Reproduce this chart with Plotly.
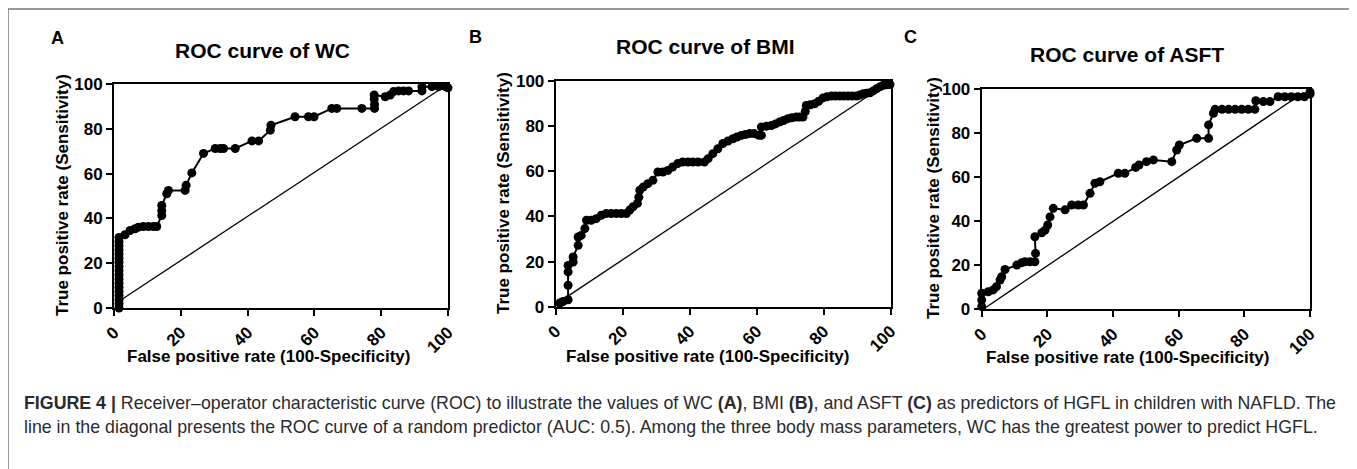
import plotly.graph_objects as go

W, H = 1357, 469
OFF = 8  # the page body margin of the browser

# ---------------- data ----------------
wc_fpr = [1.5, 1.5, 1.5, 1.5, 1.5, 1.5, 1.5, 1.5, 1.5, 1.5, 1.5, 1.5, 1.5, 1.5, 1.5, 1.5, 1.5, 1.5,
          3.3, 4.8, 6.3, 7.3, 8.8, 10.3, 11.8, 12.8, 14.3, 14.3, 14.3, 15.8, 16.3, 21.3, 21.6, 23.3,
          26.8, 30.3, 31.8, 32.8, 36.3, 41.3, 43.3, 46.8, 47.0, 54.2, 58.2, 59.9, 65.2, 66.7, 74.2,
          78.0, 78.0, 77.9, 77.9, 81.2, 82.7, 83.7, 85.2, 86.7, 88.2, 92.2, 92.2, 95.2, 97.2, 99.2, 100.0]
wc_tpr = [0.0, 1.9, 3.7, 5.6, 7.4, 9.3, 11.1, 13.0, 14.8, 16.7, 18.5, 20.4, 22.2, 24.1, 25.9, 27.8, 29.6, 31.5,
          32.7, 34.6, 35.4, 36.1, 36.4, 36.4, 36.4, 36.4, 41.3, 43.5, 45.8, 51.0, 52.5, 52.5, 54.8, 60.3,
          69.0, 71.2, 71.2, 71.2, 71.2, 74.6, 74.6, 79.4, 81.6, 85.4, 85.4, 85.4, 89.1, 89.1, 89.1,
          89.1, 90.9, 93.3, 95.1, 94.3, 95.1, 96.6, 96.9, 96.9, 96.9, 96.9, 98.8, 98.8, 98.8, 98.8, 98.3]

bmi_fpr = [1.2, 2.2, 3.7, 3.7, 3.7, 3.7, 5.2, 5.2, 6.7, 6.7, 7.6, 8.7, 9.2, 10.6, 12.1, 13.6, 15.1,
           16.6, 18.1, 19.6, 21.1, 22.1, 23.1, 24.4, 24.8, 25.1, 26.1, 27.5, 29.0, 30.5, 32.0, 33.5,
           34.9, 36.4, 37.9, 39.5, 40.9, 42.5, 44.4, 45.5, 46.9, 48.4, 49.9, 51.4, 52.9, 54.1, 55.4,
           56.6, 57.9, 59.2, 60.5, 61.4, 61.4, 62.9, 64.4, 65.6, 66.8, 68.0, 69.3, 70.5, 71.8, 72.8,
           73.8, 74.5, 74.8, 76.0, 77.3, 78.5, 79.8, 81.0, 82.3, 83.5, 84.8, 86.0, 87.3, 88.5, 89.8,
           90.8, 91.8, 92.8, 93.8, 94.8, 95.8, 96.8, 97.8, 98.8, 99.8]
bmi_tpr = [1.6, 2.3, 3.1, 9.5, 15.4, 18.3, 19.8, 22.0, 27.2, 30.9, 31.6, 34.6, 38.3, 38.3, 39.0, 40.5, 41.3,
           41.3, 41.3, 41.3, 41.3, 42.8, 44.3, 45.8, 48.5, 51.6, 53.0, 54.5, 56.0, 59.7, 59.7, 60.4,
           61.9, 63.4, 64.1, 64.1, 64.1, 64.1, 64.1, 65.6, 67.8, 70.0, 72.3, 73.4, 74.4, 75.2, 75.9,
           76.3, 76.7, 76.7, 76.0, 75.9, 79.6, 80.0, 80.3, 81.0, 81.8, 82.5, 83.3, 83.7, 84.0, 84.0,
           84.0, 86.5, 89.2, 89.5, 89.9, 91.0, 92.5, 93.0, 93.3, 93.3, 93.3, 93.3, 93.3, 93.3, 93.3,
           93.8, 94.4, 94.6, 94.8, 95.6, 96.6, 97.4, 98.1, 98.3, 98.4]

asft_fpr = [0.0, 0.0, 0.0, 2.0, 3.5, 4.5, 5.6, 6.1, 7.1, 10.7, 12.2, 13.2, 14.7, 16.2, 16.4, 16.2, 18.3,
            19.3, 20.1, 20.8, 21.8, 25.4, 27.4, 29.4, 31.0, 33.0, 34.5, 36.0, 41.6, 43.6, 46.9, 47.9,
            50.2, 52.3, 57.9, 59.4, 60.2, 65.5, 69.1, 69.1, 70.6, 71.1, 73.2, 75.2, 77.2, 79.2, 81.2,
            83.2, 83.5, 85.8, 87.8, 90.3, 92.3, 94.3, 96.3, 98.3, 100.0, 100.0]
asft_tpr = [1.2, 4.2, 7.3, 8.0, 8.8, 10.3, 13.3, 14.8, 18.1, 20.1, 21.2, 21.6, 21.6, 21.6, 25.4, 33.0, 34.8,
            36.0, 38.3, 42.0, 45.9, 45.2, 47.4, 47.4, 47.4, 52.7, 57.3, 58.0, 61.8, 61.8, 64.5, 65.6,
            67.1, 67.9, 67.1, 72.4, 74.7, 77.7, 77.7, 83.8, 89.1, 90.9, 90.9, 90.9, 90.9, 90.9, 90.9,
            90.9, 94.8, 94.4, 94.4, 96.6, 96.6, 96.6, 96.6, 96.6, 97.8, 98.8]

# reference (random predictor) diagonals
diag_wc_x, diag_wc_y = [1.5, 98.0], [3.0, 98.0]
diag_bmi_x, diag_bmi_y = [4.0, 98.0], [5.0, 98.0]
diag_asft_x, diag_asft_y = [0.8, 98.0], [0.4, 98.5]

panel_letters = ["A", "B", "C"]
panel_titles = ["ROC curve of WC", "ROC curve of BMI", "ROC curve of ASFT"]
x_title = "False positive rate (100-Specificity)"
y_title = "True positive rate (Sensitivity)"
tick_vals = [0, 20, 40, 60, 80, 100]
tick_text = ["0", "20", "40", "60", "80", "100"]
caption_line1 = ("<b>FIGURE 4 |</b> Receiver–operator characteristic curve (ROC) to illustrate the values of "
                 "WC <b>(A)</b>, BMI <b>(B)</b>, and ASFT <b>(C)</b> as predictors of HGFL in children with NAFLD. The")
caption_line2 = ("line in the diagonal presents the ROC curve of a random predictor (AUC: 0.5). Among the three "
                 "body mass parameters, WC has the greatest power to predict HGFL.")

# ---------------- layout helpers ----------------
def px(x):
    return (x - OFF) / W


def py(y):
    return 1 - (y - OFF) / H


FONT = "Liberation Sans, Arial, Helvetica, sans-serif"

# plot-area pixel boxes on the page (left, right, top, bottom)
boxes = [(114, 448, 84, 308), (555.7, 890.7, 81, 306.7), (981.7, 1310, 89.3, 309.3)]

fig = go.Figure()

series = [(wc_fpr, wc_tpr, diag_wc_x, diag_wc_y),
          (bmi_fpr, bmi_tpr, diag_bmi_x, diag_bmi_y),
          (asft_fpr, asft_tpr, diag_asft_x, diag_asft_y)]

for i, (fx, ty, dx, dy) in enumerate(series):
    suffix = "" if i == 0 else str(i + 1)
    fig.add_trace(go.Scatter(x=dx, y=dy, mode="lines", line=dict(color="black", width=1.3),
                             xaxis="x" + suffix, yaxis="y" + suffix, showlegend=False, hoverinfo="skip"))
    fig.add_trace(go.Scatter(x=fx, y=ty, mode="lines+markers",
                             line=dict(color="black", width=2),
                             marker=dict(color="black", size=9, symbol="circle"),
                             cliponaxis=False,
                             xaxis="x" + suffix, yaxis="y" + suffix, showlegend=False))

layout = dict(width=W, height=H, margin=dict(l=0, r=0, t=0, b=0, autoexpand=False),
              paper_bgcolor="white", plot_bgcolor="white", showlegend=False)

tickfont = dict(family=FONT, size=17, color="black", weight="bold")
for i, (l, r, t, b) in enumerate(boxes):
    suffix = "" if i == 0 else str(i + 1)
    layout["xaxis" + suffix] = dict(domain=[px(l), px(r)], range=[0, 100], anchor="y" + suffix,
                                    showline=True, linecolor="black", linewidth=2, mirror=True,
                                    ticks="outside", ticklen=6, tickwidth=2, tickcolor="black",
                                    tickvals=tick_vals, ticktext=tick_text, tickangle=-45,
                                    tickfont=tickfont, showgrid=False, zeroline=False, fixedrange=True,
                                    automargin=False)
    layout["yaxis" + suffix] = dict(domain=[py(b), py(t)], range=[0, 100], anchor="x" + suffix,
                                    showline=True, linecolor="black", linewidth=2, mirror=True,
                                    ticks="outside", ticklen=6, tickwidth=2, tickcolor="black",
                                    tickvals=tick_vals, ticktext=tick_text,
                                    tickfont=tickfont, showgrid=False, zeroline=False, fixedrange=True,
                                    automargin=False)

fig.update_layout(**layout)

letter_pos = [(57, 38), (475, 37), (910, 37)]
title_pos = [(262, 50), (705, 47), (1127, 55)]
ytitle_pos = [(63, 195), (503, 193), (933, 198)]
xtitle_pos = [(268, 356), (707, 356), (1127, 357)]


def note(x, y, text, size, **kw):
    d = dict(x=px(x), y=py(y), xref="paper", yref="paper", text=text, showarrow=False,
             xanchor="center", yanchor="middle", font=dict(family=FONT, size=size, color="black"))
    d.update(kw)
    return d


ann = []
for i in range(3):
    ann.append(note(*letter_pos[i], "<b>" + panel_letters[i] + "</b>", 18))
    ann.append(note(*title_pos[i], "<b>" + panel_titles[i] + "</b>", 21))
    ann.append(note(*ytitle_pos[i], "<b>" + y_title + "</b>", 17, textangle=-90))
    ann.append(note(*xtitle_pos[i], "<b>" + x_title + "</b>", 17))

ann.append(note(22, 403, caption_line1, 17.8, xanchor="left",
                font=dict(family=FONT, size=17.8, color="#2b2b2b")))
ann.append(note(22, 427, caption_line2, 17.8, xanchor="left",
                font=dict(family=FONT, size=17.8, color="#2b2b2b")))

fig.update_layout(annotations=ann)

fig.update_layout(shapes=[dict(type="rect", xref="paper", yref="paper",
                               x0=px(8), x1=px(1355), y0=py(490), y1=py(9),
                               line=dict(color="#7a7a7a", width=1.5), fillcolor="rgba(0,0,0,0)", layer="below")])

fig.write_html("out.html")
